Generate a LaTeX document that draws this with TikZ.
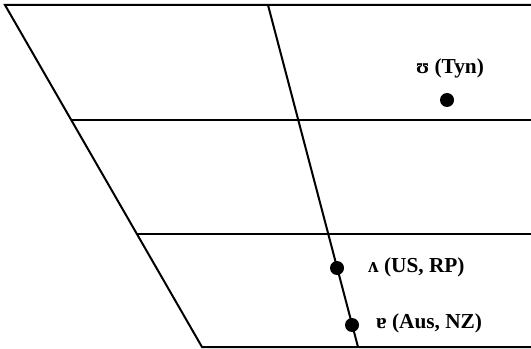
\documentclass[tikz,border=0pt]{standalone}
\usepackage{fontspec}
\setmainfont{Liberation Serif}

\begin{document}
\begin{tikzpicture}[x=0.75pt, y=-0.75pt, line width=1.5pt,
  vowel/.style={circle, fill, inner sep=0pt, minimum size=10.5pt},
  vlabel/.style={font=\fontsize{16}{19}\selectfont\bfseries, inner sep=0pt}]
  \useasboundingbox (0,0) rectangle (531,349);

  % Corners of the trapezium
  \coordinate (tl) at (5,5);
  \coordinate (tm) at (268,5);
  \coordinate (tr) at (531,5);
  \coordinate (bl) at (202,347);
  \coordinate (bm) at (358,347);
  \coordinate (br) at (531,347);
  % Ends of the two inner heights
  \coordinate (ml) at (71,120);
  \coordinate (mr) at (531,120);
  \coordinate (ll) at (137,234);
  \coordinate (lr) at (531,234);

  % Outline and grid
  \draw (tr) -- (tl) -- (bl) -- (br);
  \draw (tm) -- (bm);
  \draw (ml) -- (mr);
  \draw (ll) -- (lr);

  % Vowels
  \node[vowel] (tyn) at (447,100) {};
  \node[vlabel] at (450,68) {ʊ (Tyn)};
  \node[vowel] (usrp) at (337,268) {};
  \node[vlabel, anchor=west] at (367,267) {ʌ (US, RP)};
  \node[vowel] (ausnz) at (352,325) {};
  \node[vlabel, anchor=west] at (375,323) {ɐ (Aus, NZ)};
\end{tikzpicture}
\end{document}
